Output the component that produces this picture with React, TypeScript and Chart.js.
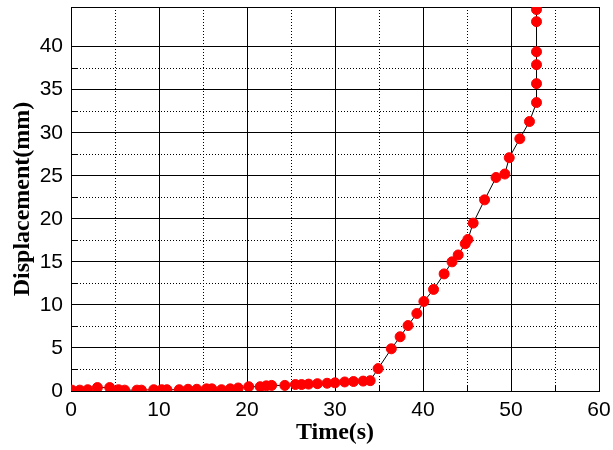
import React, { useEffect, useRef } from 'react';
import { Chart, registerables } from 'chart.js';

Chart.register(...registerables);

const timeS = [
  0.1, 1.0, 1.9, 3.0, 4.4, 5.4, 6.1, 7.5, 8.0, 9.4, 10.3, 10.9, 12.3, 13.3, 14.3, 15.4, 16.0, 17.1,
  18.1, 19.0, 20.2, 21.5, 22.2, 22.8, 24.3, 25.5, 26.2, 27.0, 28.0, 29.1, 30.0, 31.1, 32.1, 33.2,
  34.0, 34.9, 36.4, 37.4, 38.3, 39.3, 40.1, 41.2, 42.4, 43.3, 44.0, 44.8, 45.1, 45.7, 47.0, 48.3,
  49.3, 49.8, 51.0, 52.1, 52.9, 52.9, 52.9, 52.9, 52.9, 52.9,
];
const displacementMm = [
  0.1, 0.1, 0.15, 0.4, 0.4, 0.15, 0.1, 0.1, 0.1, 0.15, 0.15, 0.15, 0.15, 0.2, 0.2, 0.25, 0.25, 0.15,
  0.25, 0.35, 0.5, 0.5, 0.6, 0.65, 0.65, 0.75, 0.75, 0.8, 0.85, 0.9, 0.95, 1.05, 1.1, 1.15,
  1.2, 2.6, 4.9, 6.3, 7.6, 9.0, 10.4, 11.8, 13.6, 15.0, 15.8, 17.1, 17.6, 19.5, 22.2, 24.8,
  25.2, 27.1, 29.3, 31.3, 33.5, 35.7, 37.9, 39.4, 42.9, 44.3,
];
const xMin = 0;
const xMax = 60;
const xStep = 5;
const xLabelEvery = 10;
const yMin = 0;
const yMax = 44.6;
const yStep = 2.5;
const yLabelEvery = 5;
const xTitle = 'Time(s)';
const yTitle = 'Displacement(mm)';

const isMult = (v: number, m: number) => Math.abs(v / m - Math.round(v / m)) < 1e-6;
const align = (p: number) => Math.round(p - 0.5) + 0.5;

export default function App() {
  const ref = useRef<HTMLCanvasElement>(null);
  useEffect(() => {
    if (!ref.current) return;
    const framePlugin = {
      id: 'frame',
      beforeDatasetsDraw(chart: any) {
        const { ctx, chartArea: a, scales } = chart;
        const xs = scales.x;
        const ys = scales.y;
        ctx.save();
        ctx.strokeStyle = '#000';
        ctx.lineWidth = 1;
        const line = (x1: number, y1: number, x2: number, y2: number) => {
          ctx.beginPath();
          ctx.moveTo(x1, y1);
          ctx.lineTo(x2, y2);
          ctx.stroke();
        };
        ctx.setLineDash([1, 2]);
        xs.ticks.forEach((t: any) => {
          if (!isMult(t.value, xLabelEvery)) {
            const p = align(xs.getPixelForValue(t.value));
            line(p, a.top, p, a.bottom);
          }
        });
        ys.ticks.forEach((t: any) => {
          if (!isMult(t.value, yLabelEvery)) {
            const p = align(ys.getPixelForValue(t.value));
            line(a.left, p, a.right, p);
          }
        });
        ctx.setLineDash([]);
        xs.ticks.forEach((t: any) => {
          const p = align(xs.getPixelForValue(t.value));
          line(p, a.bottom, p, a.bottom - 6);
        });
        ys.ticks.forEach((t: any) => {
          const p = align(ys.getPixelForValue(t.value));
          line(a.left, p, a.left + 6, p);
        });
        line(a.left, align(a.top), a.right, align(a.top));
        line(align(a.right), a.top, align(a.right), a.bottom);
        ctx.restore();
      },
    };
    const chart = new Chart(ref.current, {
      type: 'scatter',
      data: {
        datasets: [
          {
            data: timeS.map((t, i) => ({ x: t, y: displacementMm[i] })),
            showLine: true,
            borderColor: '#000',
            borderWidth: 1,
            pointRadius: 5,
            pointBorderWidth: 1,
            pointBackgroundColor: '#ff0000',
            pointBorderColor: '#ff0000',
          },
        ],
      },
      options: {
        animation: false,
        responsive: true,
        maintainAspectRatio: false,
        layout: { padding: { top: 7, right: 14, left: 0, bottom: 0 } },
        plugins: { legend: { display: false }, tooltip: { enabled: false } },
        scales: {
          x: {
            type: 'linear',
            min: xMin,
            max: xMax,
            afterFit: (s: any) => {
              s.height = 59;
              s.paddingLeft = 0;
              s.paddingRight = 0;
            },
            ticks: {
              stepSize: xStep,
              autoSkip: false,
              maxRotation: 0,
              padding: 7,
              color: '#000',
              font: { family: 'Liberation Sans', size: 21 },
              callback: (v: any) => (isMult(Number(v), xLabelEvery) ? String(v) : ''),
            },
            grid: {
              drawTicks: false,
              lineWidth: 1,
              color: (c: any) => (c.tick && isMult(c.tick.value, xLabelEvery) ? '#000' : 'rgba(0,0,0,0)'),
            },
            border: { display: true, color: '#000', width: 1 },
            title: {
              display: true,
              text: xTitle,
              color: '#000',
              font: { family: 'Liberation Serif', size: 24, weight: 'bold' },
              padding: { top: 0, bottom: 3 },
            },
          },
          y: {
            type: 'linear',
            min: yMin,
            max: yMax,
            afterFit: (s: any) => {
              s.width = 71;
              s.paddingTop = 0;
              s.paddingBottom = 0;
            },
            afterBuildTicks: (s: any) => {
              s.ticks = s.ticks.filter((t: any) => isMult(t.value, yStep));
            },
            ticks: {
              stepSize: yStep,
              autoSkip: false,
              padding: 8,
              color: '#000',
              font: { family: 'Liberation Sans', size: 21 },
              callback: (v: any) => (isMult(Number(v), yLabelEvery) ? String(v) : ''),
            },
            grid: {
              drawTicks: false,
              lineWidth: 1,
              color: (c: any) => (c.tick && isMult(c.tick.value, yLabelEvery) ? '#000' : 'rgba(0,0,0,0)'),
            },
            border: { display: true, color: '#000', width: 1 },
            title: {
              display: true,
              text: yTitle,
              color: '#000',
              font: { family: 'Liberation Serif', size: 24, weight: 'bold' },
              padding: { top: 8, bottom: 0 },
            },
          },
        },
      },
      plugins: [framePlugin],
    } as any);
    return () => chart.destroy();
  }, []);
  return (
    <div style={{ position: 'fixed', left: 0, top: 0, width: 613, height: 450, background: '#fff' }}>
      <canvas ref={ref} />
    </div>
  );
}
